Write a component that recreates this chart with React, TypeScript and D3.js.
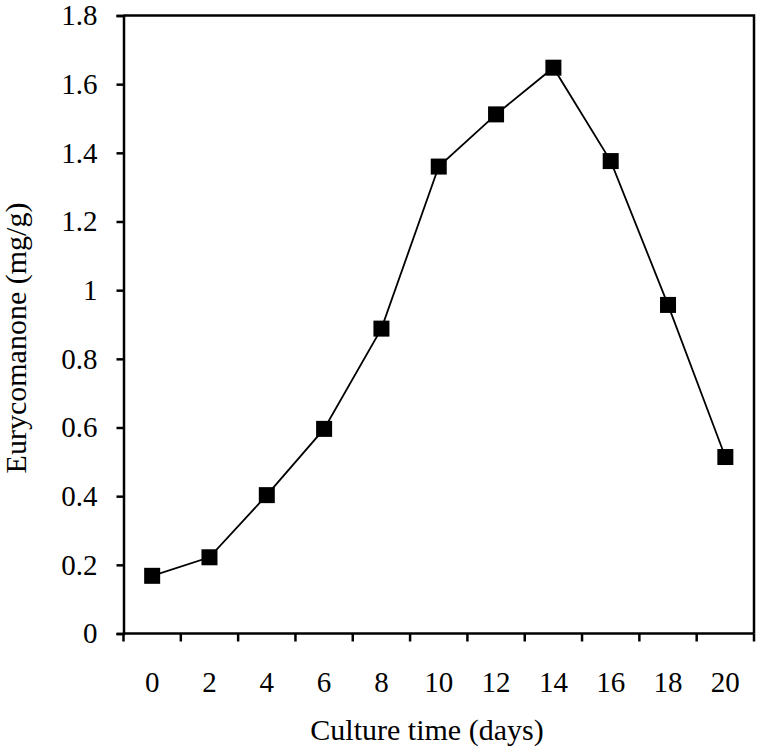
import React, { useEffect, useRef } from "react";
import * as d3 from "d3";

const days = ["0", "2", "4", "6", "8", "10", "12", "14", "16", "18", "20"];
const eurycomanone = [0.168, 0.222, 0.403, 0.596, 0.888, 1.36, 1.512, 1.648, 1.376, 0.957, 0.514];
const yTicks = [0, 0.2, 0.4, 0.6, 0.8, 1, 1.2, 1.4, 1.6, 1.8];

const App = () => {
  const ref = useRef<SVGSVGElement>(null);

  useEffect(() => {
    const svg = d3.select(ref.current);
    svg.selectAll("*").remove();

    const width = 760, height = 752;
    const left = 123.5, right = 754, top = 15.5, bottom = 633.5;
    const font = "'Liberation Serif', 'Times New Roman', serif";

    const x = d3.scaleBand().domain(days).range([left, right]);
    const y = d3.scaleLinear().domain([0, 1.8]).range([bottom, top]);

    svg.attr("width", width).attr("height", height);
    svg.append("rect").attr("width", width).attr("height", height).attr("fill", "#fff");

    // frame (top + right)
    svg.append("path")
      .attr("d", `M${left},${top}H${right}V${bottom}`)
      .attr("fill", "none")
      .attr("stroke", "#000")
      .attr("stroke-width", 2.5);

    // y axis
    const yAxis = svg.append("g").attr("transform", `translate(${left},0)`)
      .call(d3.axisLeft(y).tickValues(yTicks).tickSize(7).tickPadding(19).tickFormat((d) => d3.format("")(+d)));
    yAxis.attr("font-family", font).attr("font-size", 29);
    yAxis.select(".domain").attr("stroke-width", 2.5);
    yAxis.selectAll(".tick line").attr("stroke-width", 2.5);
    yAxis.selectAll("text").attr("fill", "#000");

    // x axis: ticks on band boundaries, labels in band centres
    const xAxis = svg.append("g").attr("transform", `translate(0,${bottom})`);
    xAxis.append("line").attr("x1", left).attr("x2", right).attr("stroke", "#000").attr("stroke-width", 2.5);
    xAxis.selectAll("line.tk")
      .data([...days.map((d) => x(d) as number), right])
      .enter().append("line")
      .attr("class", "tk")
      .attr("x1", (d) => d).attr("x2", (d) => d)
      .attr("y1", 0).attr("y2", 8)
      .attr("stroke", "#000").attr("stroke-width", 2.5);
    xAxis.selectAll("text")
      .data(days)
      .enter().append("text")
      .attr("x", (d) => (x(d) as number) + x.bandwidth() / 2)
      .attr("y", 58)
      .attr("text-anchor", "middle")
      .attr("font-family", font).attr("font-size", 29)
      .text((d) => d);

    const cx = (i: number) => (x(days[i]) as number) + x.bandwidth() / 2;

    svg.append("path")
      .datum(eurycomanone)
      .attr("d", d3.line<number>().x((_, i) => cx(i)).y((d) => y(d)))
      .attr("fill", "none")
      .attr("stroke", "#000")
      .attr("stroke-width", 1.8);

    const s = 16;
    svg.selectAll("rect.pt")
      .data(eurycomanone)
      .enter().append("rect")
      .attr("class", "pt")
      .attr("x", (_, i) => cx(i) - s / 2)
      .attr("y", (d) => y(d) - s / 2)
      .attr("width", s).attr("height", s)
      .attr("fill", "#000");

    svg.append("text")
      .attr("x", 427)
      .attr("y", 740)
      .attr("text-anchor", "middle")
      .attr("font-family", font).attr("font-size", 30)
      .text("Culture time (days)");

    svg.append("text")
      .attr("transform", `translate(26,338) rotate(-90)`)
      .attr("text-anchor", "middle")
      .attr("font-family", font).attr("font-size", 30)
      .text("Eurycomanone (mg/g)");
  }, []);

  return <svg ref={ref} style={{ position: "absolute", left: 0, top: 0 }}></svg>;
};

export default App;
